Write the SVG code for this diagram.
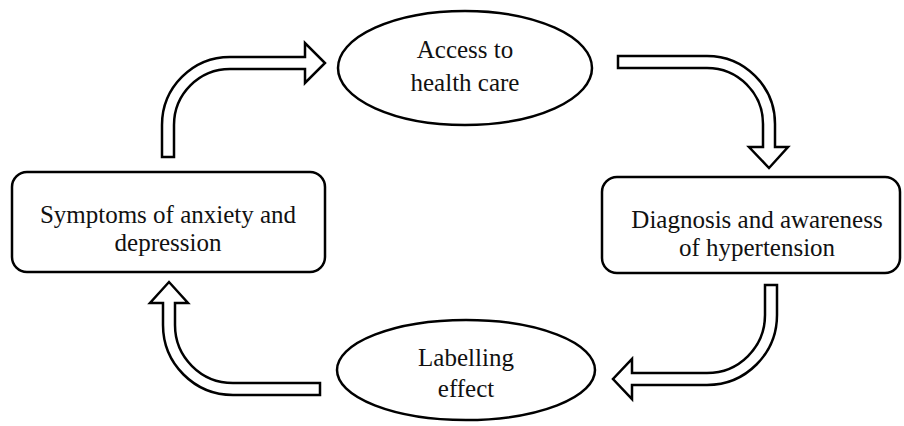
<svg xmlns="http://www.w3.org/2000/svg" width="904" height="426" viewBox="0 0 904 426">
<style>
.node{fill:#fff;stroke:#000;stroke-width:2.5}
.arr{fill:#fff;stroke:#000;stroke-width:2.5;stroke-linejoin:miter}
.t{font-family:'Liberation Serif','Times New Roman',Tinos,'DejaVu Serif',serif;font-size:25px;fill:#111;text-anchor:middle}
</style>
<rect width="904" height="426" fill="#fff"/>
<g id="connectors">
<path class="arr" d="M 162 157 L 162 125 A 68 68 0 0 1 230 57 L 305 57 L 305 43 L 325 63 L 305 83 L 305 69 L 230 69 A 56 56 0 0 0 174 125 L 174 157 Z"/>
<path class="arr" d="M 618 56 L 707 56 A 68 68 0 0 1 775 124 L 775 147 L 788 147 L 769 168 L 749 147 L 763 147 L 763 124 A 56 56 0 0 0 707 68 L 618 68 Z"/>
<path class="arr" d="M 765 285 L 777 285 L 777 315 A 70 70 0 0 1 707 385 L 632 385 L 632 399 L 613 379 L 632 359 L 632 373 L 707 373 A 58 58 0 0 0 765 315 Z"/>
<path class="arr" d="M 320 383 L 320 395 L 233 395 A 70 70 0 0 1 163 325 L 163 303 L 150 303 L 169 282 L 188 303 L 175 303 L 175 325 A 58 58 0 0 0 233 383 Z"/>
</g>
<g id="access">
<ellipse class="node" cx="465" cy="68" rx="127" ry="57"/>
<text class="t" font-family="Liberation Serif, serif" x="465" y="58">Access to</text>
<text class="t" font-family="Liberation Serif, serif" x="465" y="91">health care</text>
</g>
<g id="diagnosis">
<rect class="node" x="602" y="177" width="298" height="96" rx="15"/>
<text class="t" font-family="Liberation Serif, serif" x="757" y="228">Diagnosis and awareness</text>
<text class="t" font-family="Liberation Serif, serif" x="757" y="256">of hypertension</text>
</g>
<g id="labelling">
<ellipse class="node" cx="466" cy="370" rx="129" ry="50"/>
<text class="t" font-family="Liberation Serif, serif" x="466" y="366">Labelling</text>
<text class="t" font-family="Liberation Serif, serif" x="466" y="397">effect</text>
</g>
<g id="symptoms">
<rect class="node" x="12" y="172" width="313" height="100" rx="15"/>
<text class="t" font-family="Liberation Serif, serif" x="168" y="223">Symptoms of anxiety and</text>
<text class="t" font-family="Liberation Serif, serif" x="168" y="251">depression</text>
</g>
</svg>
